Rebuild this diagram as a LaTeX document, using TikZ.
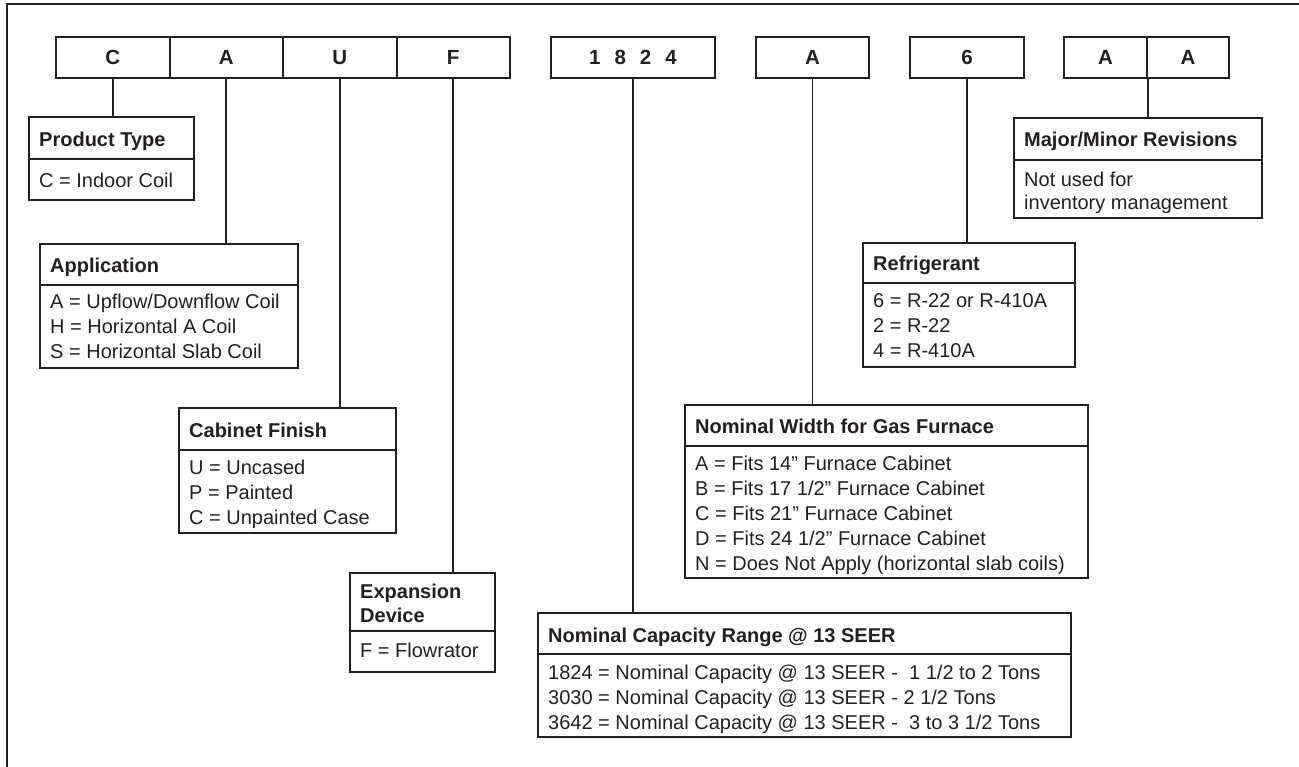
\documentclass[tikz,border=0pt]{standalone}
\usepackage{fontspec}
\setmainfont{Liberation Sans}
\definecolor{ink}{HTML}{231F20}
\begin{document}
\begin{tikzpicture}[x=1pt,y=-1pt,
  every node/.style={text=ink},
  cell/.style={draw=ink, line width=2pt, minimum height=41pt, inner sep=0pt, font=\fontsize{20.5}{24}\selectfont\bfseries},
  dbox/.style={draw=ink, line width=2pt, inner sep=0pt},
  divline/.style={draw=ink, line width=2pt},
  link/.style={draw=ink, line width=1.8pt},
  ttl/.style={anchor=base west, inner sep=0pt, font=\fontsize{20}{24}\selectfont\bfseries},
  txt/.style={anchor=base west, inner sep=0pt, font=\fontsize{20}{24}\selectfont},
]
\useasboundingbox (0,0) rectangle (1299,767);
\draw[ink, line width=2.6pt] (7,767) -- (7,4) -- (1299,4);

% code cells
\node[cell, minimum width=113.5pt] (c1) at (112.75,57.5) {C};
\node[cell, minimum width=113.5pt] (c2) at (226.25,57.5) {A};
\node[cell, minimum width=113.5pt] (c3) at (339.75,57.5) {U};
\node[cell, minimum width=113.5pt] (c4) at (453.25,57.5) {F};
\node[cell, minimum width=164pt] (c5) at (633,57.5) {1\hspace{14pt}8\hspace{14pt}2\hspace{14pt}4};
\node[cell, minimum width=113pt] (c6) at (812.5,57.5) {A};
\node[cell, minimum width=114pt] (c7) at (967,57.5) {6};
\node[cell, minimum width=83pt] (c8) at (1105.5,57.5) {A};
\node[cell, minimum width=82pt] (c9) at (1188,57.5) {A};

% Product Type
\node[dbox, minimum width=165pt, minimum height=83pt] (pt) at (111.5,158.5) {};
\draw[divline] (pt.west |- 0,159) -- (pt.east |- 0,159);
\node[ttl] (ptt) at (39,147) {Product Type};
\node[txt] (pt1) at (39,188) {C = Indoor Coil};

% Application
\node[dbox, minimum width=258pt, minimum height=124pt] (ap) at (169,306) {};
\draw[divline] (ap.west |- 0,285) -- (ap.east |- 0,285);
\node[ttl] (apt) at (50,273) {Application};
\node[txt] (ap1) at (50,309) {A = Upflow/Downflow Coil};
\node[txt] (ap2) at (50,334) {H = Horizontal A Coil};
\node[txt] (ap3) at (50,359) {S = Horizontal Slab Coil};

% Cabinet Finish
\node[dbox, minimum width=217pt, minimum height=125pt] (cf) at (287.5,470.5) {};
\draw[divline] (cf.west |- 0,450) -- (cf.east |- 0,450);
\node[ttl] (cft) at (189,437) {Cabinet Finish};
\node[txt] (cf1) at (189,474) {U = Uncased};
\node[txt] (cf2) at (189,499) {P = Painted};
\node[txt] (cf3) at (189,524) {C = Unpainted Case};

% Expansion Device
\node[dbox, minimum width=145pt, minimum height=99pt] (ex) at (422.5,622.5) {};
\draw[divline] (ex.west |- 0,631) -- (ex.east |- 0,631);
\node[ttl] (ext1) at (360,598) {Expansion};
\node[ttl] (ext2) at (360,622) {Device};
\node[txt] (ex1) at (360,657) {F = Flowrator};

% Nominal Capacity
\node[dbox, minimum width=533pt, minimum height=124pt] (nc) at (804.5,675) {};
\draw[divline] (nc.west |- 0,654) -- (nc.east |- 0,654);
\node[ttl] (nct) at (548,642) {Nominal Capacity Range @ 13 SEER};
\node[txt] (nc1) at (548,679) {1824 = Nominal Capacity @ 13 SEER -\ \ 1 1/2 to 2 Tons};
\node[txt] (nc2) at (548,704) {3030 = Nominal Capacity @ 13 SEER - 2 1/2 Tons};
\node[txt] (nc3) at (548,729) {3642 = Nominal Capacity @ 13 SEER -\ \ 3 to 3 1/2 Tons};

% Nominal Width
\node[dbox, minimum width=403pt, minimum height=173pt] (nw) at (886.5,491.5) {};
\draw[divline] (nw.west |- 0,446) -- (nw.east |- 0,446);
\node[ttl] (nwt) at (695,433) {Nominal Width for Gas Furnace};
\node[txt] (nw1) at (695,470) {A = Fits 14” Furnace Cabinet};
\node[txt] (nw2) at (695,495) {B = Fits 17 1/2” Furnace Cabinet};
\node[txt] (nw3) at (695,520) {C = Fits 21” Furnace Cabinet};
\node[txt] (nw4) at (695,545) {D = Fits 24 1/2” Furnace Cabinet};
\node[txt] (nw5) at (695,570) {N = Does Not Apply (horizontal slab coils)};

% Refrigerant
\node[dbox, minimum width=212pt, minimum height=124pt] (rf) at (969,305) {};
\draw[divline] (rf.west |- 0,283) -- (rf.east |- 0,283);
\node[ttl] (rft) at (873,271) {Refrigerant};
\node[txt] (rf1) at (873,308) {6 = R-22 or R-410A};
\node[txt] (rf2) at (873,333) {2 = R-22};
\node[txt] (rf3) at (873,358) {4 = R-410A};

% Major/Minor Revisions
\node[dbox, minimum width=248pt, minimum height=100pt] (mm) at (1138,168) {};
\draw[divline] (mm.west |- 0,160) -- (mm.east |- 0,160);
\node[ttl] (mmt) at (1024,147) {Major/Minor Revisions};
\node[txt] (mm1) at (1024,187) {Not used for};
\node[txt] (mm2) at (1024,210) {inventory management};

% connectors
\draw[link] (c1.south) -- (c1.south |- pt.north);
\draw[link] (c2.south) -- (c2.south |- ap.north);
\draw[link] (c3.south) -- (c3.south |- cf.north);
\draw[link] (c4.south) -- (c4.south |- ex.north);
\draw[link] (c5.south) -- (c5.south |- nc.north);
\draw[link] (c6.south) -- (c6.south |- nw.north);
\draw[link] (c7.south) -- (c7.south |- rf.north);
\draw[link] (c8.south east) -- (c8.south east |- mm.north);
\end{tikzpicture}
\end{document}
